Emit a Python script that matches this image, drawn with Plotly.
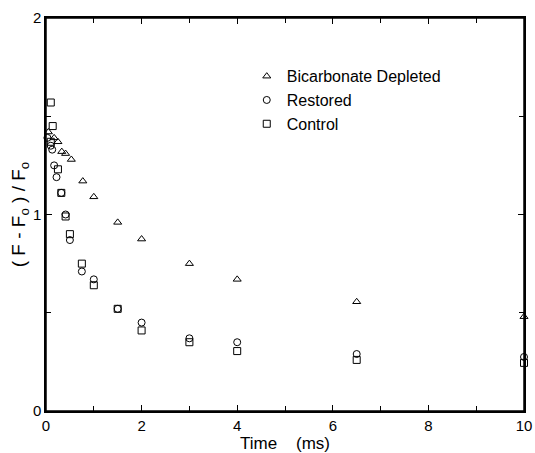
import plotly.graph_objects as go

# Bicarbonate Depleted (triangles)
t_dep = [0.05, 0.17, 0.25, 0.33, 0.41, 0.53, 0.77, 1.0, 1.5, 2.0, 3.0, 4.0, 6.5, 10.0]
v_dep = [1.42, 1.39, 1.37, 1.32, 1.31, 1.28, 1.17, 1.09, 0.96, 0.875, 0.75, 0.67, 0.556, 0.48]

# Restored (circles)
t_res = [0.03, 0.1, 0.13, 0.17, 0.22, 0.32, 0.41, 0.5, 0.75, 1.0, 1.5, 2.0, 3.0, 4.0, 6.5, 10.0]
v_res = [1.39, 1.35, 1.33, 1.25, 1.19, 1.11, 1.0, 0.87, 0.71, 0.67, 0.52, 0.45, 0.37, 0.35, 0.29, 0.275]

# Control (squares)
t_con = [0.1, 0.14, 0.1, 0.25, 0.32, 0.41, 0.5, 0.75, 1.0, 1.5, 2.0, 3.0, 4.0, 6.5, 10.0]
v_con = [1.57, 1.45, 1.37, 1.23, 1.11, 0.99, 0.90, 0.75, 0.64, 0.52, 0.41, 0.35, 0.305, 0.26, 0.245]

x_ticks = [0, 2, 4, 6, 8, 10]
y_ticks = [0, 1, 2]

FONT = "Liberation Sans, Arial, sans-serif"

fig = go.Figure()
mk = dict(color="black", size=7, line=dict(color="black", width=1))
fig.add_trace(go.Scatter(x=t_dep, y=v_dep, mode="markers", name="Bicarbonate Depleted",
                         cliponaxis=False,
                         marker=dict(symbol="triangle-up-open", **mk)))
fig.add_trace(go.Scatter(x=t_res, y=v_res, mode="markers", name="Restored",
                         cliponaxis=False,
                         marker=dict(symbol="circle-open", **mk)))
fig.add_trace(go.Scatter(x=t_con, y=v_con, mode="markers", name="Control",
                         cliponaxis=False,
                         marker=dict(symbol="square-open", **mk)))

fig.update_layout(
    width=535, height=453,
    margin=dict(l=46, r=11, t=18, b=42),
    paper_bgcolor="white", plot_bgcolor="white",
    font=dict(family=FONT, size=14, color="black"),
    showlegend=True,
    legend=dict(x=0.42, y=0.895, xanchor="left", yanchor="top",
                bgcolor="rgba(0,0,0,0)", font=dict(size=16, family=FONT),
                itemwidth=30),
    shapes=[dict(type="rect", xref="paper", yref="paper", x0=0, x1=1, y0=0, y1=1,
                 line=dict(color="black", width=1.5), layer="above")],
)
fig.update_xaxes(
    range=[0, 10], tickvals=x_ticks, ticktext=[str(v) for v in x_ticks],
    ticks="inside", ticklen=6, tickcolor="black",
    minor=dict(dtick=1, ticks="inside", ticklen=5, tickcolor="black"),
    showline=True, linecolor="black", linewidth=1.5, mirror="ticks",
    showgrid=False, zeroline=False, automargin=False,
    title=dict(text="Time&nbsp;&nbsp;&nbsp;&nbsp;(ms)", standoff=0, font=dict(size=17)),
    tickfont=dict(size=15),
)
fig.update_yaxes(
    range=[0, 2], tickvals=y_ticks, ticktext=[str(v) for v in y_ticks],
    ticks="inside", ticklen=6, tickcolor="black",
    minor=dict(dtick=0.5, ticks="inside", ticklen=5, tickcolor="black"),
    showline=True, linecolor="black", linewidth=1.5, mirror="ticks",
    showgrid=False, zeroline=False, automargin=False,
    title=dict(text="( F - F<sub>o</sub> ) / F<sub>o</sub>", standoff=2, font=dict(size=19)),
    tickfont=dict(size=15),
)

fig.write_html(
    "out.html",
    config={"displayModeBar": False},
    post_script="document.body.style.margin='0';document.body.style.overflow='hidden';",
)
